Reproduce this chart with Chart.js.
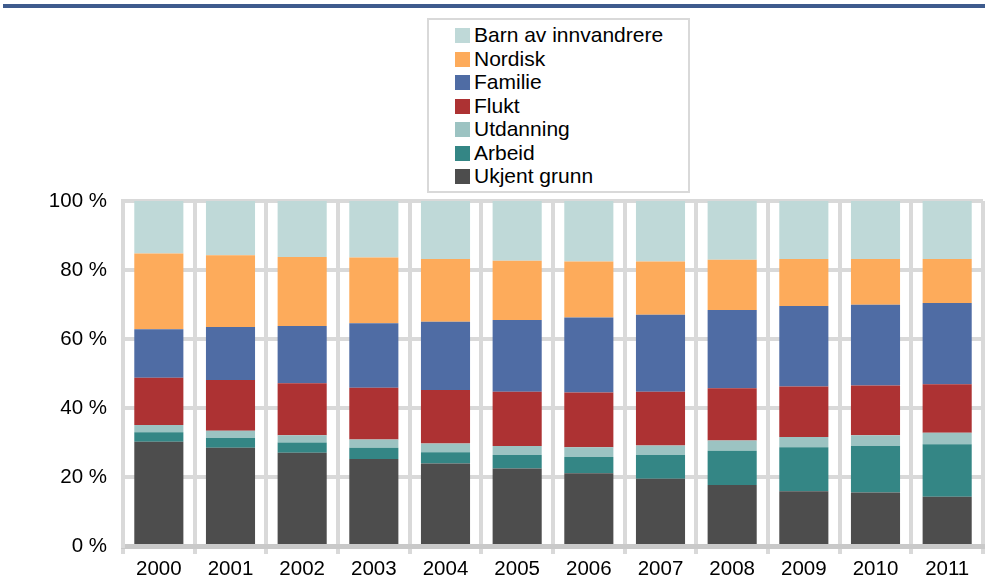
<!DOCTYPE html>
<html>
<head>
<meta charset="utf-8">
<script src="https://cdn.jsdelivr.net/npm/chart.js@4"></script>
<style>
  body { margin: 0; background: #fff; font-family: "Liberation Sans", Arial, sans-serif; }
  #wrap { position: relative; width: 985px; height: 584px; overflow: hidden; }
  #topline { position: absolute; left: 3px; top: 4px; width: 982px; height: 4px; background: #3e5b8d; }
  #legend { position: absolute; left: 427px; top: 18px; width: 259px; height: 171px;
            border: 2px solid #d9d9d9; background: #fff; }
  .item { position: absolute; left: 26px; height: 23px; line-height: 23px; font-size: 21px; color: #000; white-space: nowrap; }
  .sw { display: inline-block; width: 15px; height: 15px; margin-right: 4px; vertical-align: -1px; }
</style>
</head>
<body>
<div id="wrap">
  <canvas id="chart" width="985" height="584"></canvas>
  <div id="topline"></div>
  <div id="legend"></div>
</div>
<script>
const years = ["2000", "2001", "2002", "2003", "2004", "2005", "2006", "2007", "2008", "2009", "2010", "2011"];

// prosent per innvandringsgrunn, nederst i stabelen forst
const ukjent = [30.2, 28.5, 27.0, 25.2, 23.9, 22.5, 21.1, 19.5, 17.7, 15.9, 15.5, 14.3];
const arbeid = [2.8, 2.8, 3.0, 3.3, 3.3, 3.9, 4.7, 6.9, 9.9, 12.7, 13.5, 15.2];
const utdanning = [2.1, 2.1, 2.1, 2.4, 2.5, 2.6, 2.8, 2.7, 3.0, 3.0, 3.1, 3.3];
const flukt = [13.7, 14.7, 15.1, 15.0, 15.5, 15.7, 15.9, 15.6, 15.1, 14.6, 14.4, 14.1];
const familie = [14.0, 15.4, 16.6, 18.7, 19.8, 20.8, 21.7, 22.3, 22.7, 23.4, 23.4, 23.5];
const nordisk = [22.0, 20.8, 20.0, 19.0, 18.2, 17.2, 16.3, 15.5, 14.6, 13.6, 13.3, 12.8];
const barn = [15.2, 15.7, 16.2, 16.4, 16.8, 17.3, 17.5, 17.5, 17.0, 16.8, 16.8, 16.8];

const yTicks = [0, 20, 40, 60, 80, 100];

const series = [
  { label: "Ukjent grunn", data: ukjent, color: "#4d4d4d" },
  { label: "Arbeid", data: arbeid, color: "#348685" },
  { label: "Utdanning", data: utdanning, color: "#9cc3c2" },
  { label: "Flukt", data: flukt, color: "#ad3233" },
  { label: "Familie", data: familie, color: "#4f6ca4" },
  { label: "Nordisk", data: nordisk, color: "#fdab5b" },
  { label: "Barn av innvandrere", data: barn, color: "#bfd9d8" },
];

const gridColor = "#d9d9d9";
const font = { family: "'Liberation Sans', Arial, sans-serif", size: 20.5 };

new Chart(document.getElementById("chart").getContext("2d"), {
  type: "bar",
  data: {
    labels: years,
    datasets: series.map((s) => ({
      label: s.label,
      data: s.data,
      backgroundColor: s.color,
      borderWidth: 0,
      categoryPercentage: 1,
      barPercentage: 0.685,
    })),
  },
  options: {
    responsive: false,
    animation: false,
    layout: { padding: { top: 201, right: 2, left: 0, bottom: 0 } },
    plugins: {
      legend: { display: false },
      tooltip: { enabled: false },
    },
    scales: {
      x: {
        stacked: true,
        grid: { color: gridColor, lineWidth: 4, tickLength: 8, tickColor: gridColor, tickWidth: 4 },
        border: { color: "#c9c9c9", width: 5 },
        ticks: { color: "#000", font: font, padding: 3, maxRotation: 0 },
        afterFit: (s) => { s.height = 38; },
      },
      y: {
        stacked: true,
        min: 0,
        max: 100,
        afterBuildTicks: (s) => { s.ticks = yTicks.map((v) => ({ value: v })); },
        grid: { color: gridColor, lineWidth: 4, drawTicks: false },
        border: { color: gridColor, width: 4 },
        ticks: { color: "#000", font: font, padding: 16, callback: (v) => v + " %" },
        afterFit: (s) => { s.width = 123; },
      },
    },
  },
});

// legende, omvendt rekkefolge som i stabelen
const legend = document.getElementById("legend");
series.slice().reverse().forEach((s, i) => {
  const d = document.createElement("div");
  d.className = "item";
  d.style.top = (3 + i * 23.5) + "px";
  d.innerHTML = '<span class="sw" style="background:' + s.color + '"></span>' + s.label;
  legend.appendChild(d);
});
</script>
</body>
</html>
